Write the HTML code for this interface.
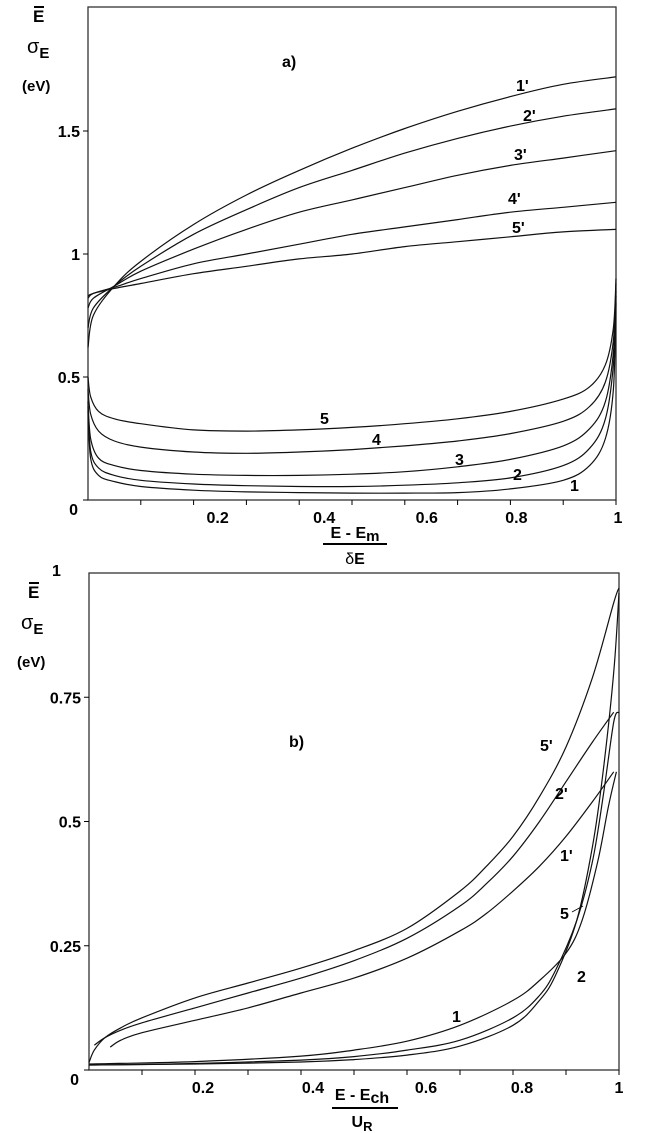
<!DOCTYPE html>
<html><head><meta charset="utf-8"><style>
html,body{margin:0;padding:0;background:#fff;}
svg{display:block;font-family:"Liberation Sans",Arial,sans-serif;font-weight:bold;}
</style></head><body>
<svg id="chart" width="654" height="1133" viewBox="0 0 654 1133">
<g id="pa"></g>
<g id="pb"></g>
<g font-size="14" fill="#000">
<text x="33" y="22" font-size="17">E</text>
<line x1="34" y1="7" x2="44" y2="7" stroke="#000" stroke-width="2"/>
<text x="27" y="53" font-size="20" font-weight="normal">σ<tspan font-size="15" font-weight="bold" dy="5">E</tspan></text>
<text x="22" y="91" font-size="15">(eV)</text>
<text x="282" y="67" font-size="16">a)</text>
<text x="355" y="538" text-anchor="middle" font-size="16">E - E<tspan font-size="15" dy="3">m</tspan></text>
<line x1="323" y1="544" x2="387" y2="544" stroke="#000" stroke-width="2"/>
<text x="355" y="564" text-anchor="middle" font-size="16"><tspan font-weight="normal">δ</tspan>E</text>
</g>
<g font-size="14" fill="#000">
<text x="52" y="576" font-size="16">1</text>
<text x="28" y="598" font-size="17">E</text>
<line x1="29" y1="583" x2="39" y2="583" stroke="#000" stroke-width="2"/>
<text x="21" y="629" font-size="20" font-weight="normal">σ<tspan font-size="15" font-weight="bold" dy="5">E</tspan></text>
<text x="17" y="667" font-size="15">(eV)</text>
<text x="289" y="747" font-size="16">b)</text>
<text x="362" y="1100" text-anchor="middle" font-size="16">E - E<tspan font-size="16" dy="3">ch</tspan></text>
<line x1="332" y1="1108" x2="398" y2="1108" stroke="#000" stroke-width="2"/>
<text x="362" y="1127" text-anchor="middle" font-size="16">U<tspan font-size="13" dy="4">R</tspan></text>
</g>
</svg>
<script>
const NS="http://www.w3.org/2000/svg";
// Panel a data
const aX=[0,0.2,0.4,0.6,0.8,1];
const aYTicks=[0,0.5,1,1.5];
const aYTickLabels=["0","0.5","1","1.5"];
const aXTickLabels=["0.2","0.4","0.6","0.8","1"];
const aUpperU=[0,0.01,0.05,0.1,0.2,0.3,0.4,0.5,0.6,0.7,0.8,0.9,1];
const a1p=[0.62,0.75,0.87,0.97,1.12,1.24,1.34,1.43,1.51,1.58,1.64,1.69,1.72];
const a2p=[0.70,0.78,0.87,0.95,1.08,1.18,1.27,1.34,1.41,1.47,1.52,1.56,1.59];
const a3p=[0.78,0.82,0.87,0.93,1.02,1.10,1.17,1.22,1.27,1.32,1.36,1.39,1.42];
const a4p=[0.82,0.84,0.865,0.90,0.96,1.00,1.04,1.08,1.11,1.14,1.17,1.19,1.21];
const a5p=[0.83,0.84,0.86,0.88,0.92,0.95,0.98,1.00,1.03,1.05,1.07,1.09,1.10];
const aLowerU=[0,0.005,0.02,0.05,0.1,0.2,0.3,0.4,0.5,0.6,0.7,0.8,0.9,0.95,0.98,0.995,1];
const a5=[0.50,0.42,0.36,0.33,0.31,0.285,0.28,0.285,0.295,0.31,0.33,0.36,0.41,0.46,0.55,0.70,0.90];
const a4=[0.45,0.35,0.28,0.24,0.215,0.195,0.19,0.195,0.205,0.22,0.24,0.27,0.32,0.38,0.48,0.65,0.88];
const a3=[0.40,0.25,0.17,0.14,0.12,0.105,0.10,0.10,0.105,0.115,0.135,0.165,0.22,0.29,0.40,0.60,0.85];
const a2=[0.38,0.20,0.13,0.10,0.08,0.065,0.058,0.055,0.055,0.06,0.07,0.09,0.14,0.21,0.33,0.55,0.83];
const a1=[0.36,0.17,0.10,0.075,0.055,0.04,0.033,0.03,0.028,0.028,0.03,0.045,0.08,0.14,0.25,0.45,0.80];
const aLabels=["1'","2'","3'","4'","5'","5","4","3","2","1"];
// Panel b data
const bYTicks=[0,0.25,0.5,0.75];
const bYTickLabels=["0","0.25","0.5","0.75"];
const bXTickLabels=["0.2","0.4","0.6","0.8","1"];
const b5pU=[0,0.01,0.03,0.06,0.1,0.2,0.3,0.4,0.5,0.6,0.7,0.75,0.8,0.85,0.9,0.95,0.99,1];
const b5p=[0.015,0.04,0.065,0.085,0.105,0.145,0.175,0.205,0.24,0.285,0.36,0.41,0.47,0.55,0.65,0.79,0.94,0.97];
const b2pU=[0.01,0.03,0.06,0.1,0.2,0.3,0.4,0.5,0.6,0.7,0.75,0.8,0.85,0.9,0.95,0.99];
const b2p=[0.05,0.065,0.08,0.095,0.125,0.155,0.185,0.22,0.265,0.33,0.375,0.43,0.5,0.58,0.66,0.72];
const b1pU=[0.04,0.06,0.1,0.2,0.3,0.4,0.5,0.6,0.7,0.75,0.8,0.85,0.9,0.95,0.99];
const b1p=[0.046,0.06,0.075,0.1,0.125,0.155,0.185,0.225,0.28,0.315,0.36,0.41,0.47,0.54,0.60];
const b1U=[0,0.2,0.4,0.5,0.6,0.7,0.8,0.85,0.9,0.93,0.96,0.98,0.995];
const b1=[0.012,0.017,0.028,0.04,0.058,0.09,0.14,0.18,0.235,0.30,0.42,0.53,0.60];
const b2U=[0,0.2,0.4,0.5,0.6,0.7,0.8,0.85,0.88,0.92,0.95,0.97,0.99,1];
const b2=[0.01,0.013,0.02,0.027,0.04,0.06,0.105,0.15,0.20,0.30,0.42,0.55,0.70,0.72];
const b5U=[0,0.2,0.4,0.5,0.6,0.7,0.8,0.85,0.88,0.92,0.95,0.97,0.99,1];
const b5=[0.01,0.012,0.016,0.021,0.03,0.048,0.09,0.14,0.19,0.30,0.45,0.60,0.80,0.96];

const A={x0:88,x1:616,y0:500,yTop:7,ys:246};
const B={x0:89,x1:619,y0:1070,yTop:573,ys:497};
const sx=(P,u)=>P.x0+(P.x1-P.x0)*u;
const sy=(P,v)=>P.y0-P.ys*v;

function mk(tag,attrs,parent){const e=document.createElementNS(NS,tag);for(const k in attrs)e.setAttribute(k,attrs[k]);parent.appendChild(e);return e;}
function smooth(pts){let d="M"+pts[0][0].toFixed(1)+","+pts[0][1].toFixed(1);
 for(let i=0;i<pts.length-1;i++){const p0=pts[Math.max(0,i-1)],p1=pts[i],p2=pts[i+1],p3=pts[Math.min(pts.length-1,i+2)];
  const c1=[p1[0]+(p2[0]-p0[0])/6,p1[1]+(p2[1]-p0[1])/6],c2=[p2[0]-(p3[0]-p1[0])/6,p2[1]-(p3[1]-p1[1])/6];
  d+=" C"+c1[0].toFixed(1)+","+c1[1].toFixed(1)+" "+c2[0].toFixed(1)+","+c2[1].toFixed(1)+" "+p2[0].toFixed(1)+","+p2[1].toFixed(1);}
 return d;}
function axes(P,g,yt,ytl,xtl,xLabOff,name){
 const f=mk("rect",{x:P.x0,y:P.yTop,width:P.x1-P.x0,height:P.y0-P.yTop,fill:"none",stroke:"#333","stroke-width":1.3},g);
 
 
 for(let i=1;i<=10;i++){const x=sx(P,i/10);mk("line",{x1:x,y1:P.y0,x2:x,y2:P.y0+5,stroke:"#000","stroke-width":1},g);}
 yt.forEach((v,i)=>{const y=sy(P,v);mk("line",{x1:P.x0-5,y1:y,x2:P.x0,y2:y,stroke:"#000","stroke-width":1},g);
  const t=mk("text",{x:P.x0-(v===0?10:8),y:y+(v===0?15:6),"text-anchor":"end","font-size":16},g);t.textContent=ytl[i];
  
  });
 xtl.forEach((s,i)=>{const u=(i+1)*0.2;const t=mk("text",{x:sx(P,u)+xLabOff[i],y:P.y0+23,"text-anchor":"middle","font-size":16},g);t.textContent=s;
  
  });
}
function series(P,g,U,V,name){const pts=U.map((u,i)=>[sx(P,u),sy(P,V[i])]);
 const p=mk("path",{d:smooth(pts),fill:"none",stroke:"#111","stroke-width":1.2},g);
 
 }
function label(g,x,y,s,name){const t=mk("text",{x:x,y:y,"font-size":16},g);t.textContent=s;
 
 }

const ga=document.getElementById("pa");
axes(A,ga,aYTicks,aYTickLabels,aXTickLabels,[24,25,22,6,2],"panel-a");
series(A,ga,aUpperU,a1p,"curve-a-1prime");
series(A,ga,aUpperU,a2p,"curve-a-2prime");
series(A,ga,aUpperU,a3p,"curve-a-3prime");
series(A,ga,aUpperU,a4p,"curve-a-4prime");
series(A,ga,aUpperU,a5p,"curve-a-5prime");
series(A,ga,aLowerU,a5,"curve-a-5");
series(A,ga,aLowerU,a4,"curve-a-4");
series(A,ga,aLowerU,a3,"curve-a-3");
series(A,ga,aLowerU,a2,"curve-a-2");
series(A,ga,aLowerU,a1,"curve-a-1");
label(ga,516,91,aLabels[0],"label-a-1prime");
label(ga,523,121,aLabels[1],"label-a-2prime");
label(ga,514,160,aLabels[2],"label-a-3prime");
label(ga,508,204,aLabels[3],"label-a-4prime");
label(ga,512,233,aLabels[4],"label-a-5prime");
label(ga,320,424,aLabels[5],"label-a-5");
label(ga,372,445,aLabels[6],"label-a-4");
label(ga,455,465,aLabels[7],"label-a-3");
label(ga,513,480,aLabels[8],"label-a-2");
label(ga,570,491,aLabels[9],"label-a-1");

const gb=document.getElementById("pb");
axes(B,gb,bYTicks,bYTickLabels,bXTickLabels,[8,12,19,9,0],"panel-b");
series(B,gb,b5pU,b5p,"curve-b-5prime");
series(B,gb,b2pU,b2p,"curve-b-2prime");
series(B,gb,b1pU,b1p,"curve-b-1prime");
series(B,gb,b1U,b1,"curve-b-1");
series(B,gb,b2U,b2,"curve-b-2");
series(B,gb,b5U,b5,"curve-b-5");
label(gb,540,751,"5'","label-b-5prime");
label(gb,555,799,"2'","label-b-2prime");
label(gb,560,861,"1'","label-b-1prime");
label(gb,560,919,"5","label-b-5");
mk("line",{x1:572,y1:912,x2:583,y2:906,stroke:"#000","stroke-width":0.8},gb);
label(gb,577,982,"2","label-b-2");
label(gb,452,1022,"1","label-b-1");
</script>
</body></html>
